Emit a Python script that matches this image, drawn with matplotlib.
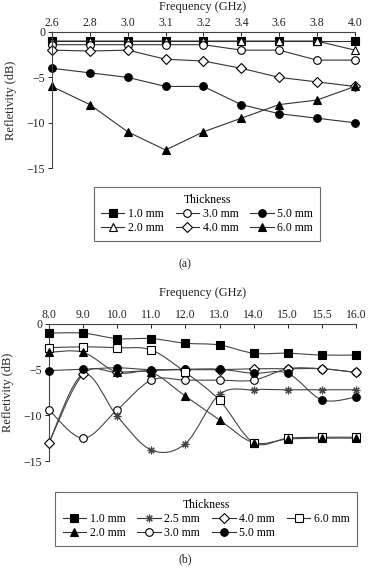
import numpy as np
import matplotlib
matplotlib.use("Agg")
import matplotlib.pyplot as plt
from matplotlib.path import Path
from matplotlib.patches import PathPatch
from matplotlib.lines import Line2D

plt.rcParams['font.family'] = ['Liberation Serif', 'DejaVu Serif']
plt.rcParams['axes.unicode_minus'] = True

# ---- data, panel (a) ----
freq_a = ['2.6', '2.8', '3.0', '3.1', '3.2', '3.4', '3.6', '3.8', '4.0']
a_1mm = [-1.0, -1.0, -1.0, -1.0, -1.0, -1.0, -1.0, -1.0, -1.0]
a_2mm = [-1.0, -1.0, -1.0, -1.0, -1.0, -1.0, -1.0, -1.0, -2.0]
a_3mm = [-1.4, -1.4, -1.4, -1.4, -1.4, -2.0, -2.0, -3.1, -3.1]
a_4mm = [-2.0, -2.1, -2.0, -3.0, -3.2, -4.0, -5.0, -5.5, -6.0]
a_5mm = [-4.0, -4.5, -5.0, -6.0, -6.0, -8.0, -9.0, -9.5, -10.0]
a_6mm = [-6.0, -8.0, -11.0, -13.0, -11.0, -9.5, -8.0, -7.5, -6.0]

# ---- data, panel (b) ----
freq_b = ['8.0', '9.0', '10.0', '11.0', '12.0', '13.0', '14.0', '15.0', '15.5', '16.0']
b_1mm = [-1.0, -1.0, -1.6, -1.6, -2.1, -2.3, -3.2, -3.2, -3.4, -3.4]
b_2mm = [-3.1, -3.1, -5.3, -5.3, -7.9, -10.5, -13.0, -12.6, -12.5, -12.5]
b_25mm = [-13.0, -5.5, -10.1, -13.8, -13.1, -7.7, -7.2, -7.2, -7.2, -7.2]
b_3mm = [-9.4, -12.5, -9.4, -6.15, -6.15, -6.15, -6.15, -4.9, -4.9, -5.3]
b_4mm = [-13.0, -5.5, -5.3, -5.1, -5.0, -5.0, -4.9, -4.9, -4.9, -5.3]
b_5mm = [-5.1, -4.95, -4.8, -5.0, -4.95, -4.95, -5.4, -5.4, -8.3, -8.0]
b_6mm = [-2.6, -2.5, -2.6, -2.85, -5.3, -8.35, -13.0, -12.5, -12.4, -12.4]

# marker styles (marker, face colour) for each panel
styles_a = {
    '1.0 mm': ('s', 'black'),
    '2.0 mm': ('^', 'white'),
    '3.0 mm': ('o', 'white'),
    '4.0 mm': ('D', 'white'),
    '5.0 mm': ('o', 'black'),
    '6.0 mm': ('^', 'black'),
}
styles_b = {
    '1.0 mm': ('s', 'black'),
    '2.0 mm': ('^', 'black'),
    '2.5 mm': ((8, 2, 0), 'none'),
    '3.0 mm': ('o', 'white'),
    '4.0 mm': ('D', 'white'),
    '5.0 mm': ('o', 'black'),
    '6.0 mm': ('s', 'white'),
}
line_c = '#333333'


def smooth_path(x, y):
    # Catmull-Rom style bezier through the points (like a smoothed Excel line)
    pts = np.column_stack([x, y]).astype(float)
    n = len(pts)
    verts = [pts[0]]
    codes = [Path.MOVETO]
    for i in range(n - 1):
        p0 = pts[i - 1] if i > 0 else pts[i]
        p1 = pts[i]
        p2 = pts[i + 1]
        p3 = pts[i + 2] if i + 2 < n else pts[i + 1]
        verts += [p1 + (p2 - p0) / 6, p2 - (p3 - p1) / 6, p2]
        codes += [Path.CURVE4] * 3
    return Path(verts, codes)


def setup_axes(ax, labels):
    ax.set_xlim(0, len(labels) - 1)
    ax.set_ylim(-15, 0)
    ax.xaxis.tick_top()
    ax.set_xticks(range(len(labels)))
    ax.set_xticklabels(labels)
    ax.set_yticks([0, -5, -10, -15])
    ax.spines['right'].set_visible(False)
    ax.spines['bottom'].set_visible(False)
    for s in ['top', 'left']:
        ax.spines[s].set_linewidth(0.8)
        ax.spines[s].set_color('#444444')
    ax.tick_params(axis='x', direction='in', length=3, pad=2, labelsize=8.5,
                   width=0.7, colors='#222222')
    ax.tick_params(axis='y', direction='out', length=3, pad=2, labelsize=8.5,
                   width=0.7, colors='#222222')
    ax.set_ylabel('Refletivity (dB)', fontsize=9, labelpad=7, color='#222222')
    ax.patch.set_alpha(0)


def make_legend(handles, center, ncol):
    leg = fig.legend(handles=handles, loc='center', bbox_to_anchor=center,
                     ncol=ncol, title='Thickness', fontsize=8.5,
                     title_fontsize=8.5, frameon=True, fancybox=False,
                     edgecolor='#444444', handlelength=2.0, handletextpad=0.3,
                     columnspacing=1.0, labelspacing=0.15, borderpad=0.6)
    leg.get_frame().set_linewidth(0.8)
    return leg


fig = plt.figure(figsize=(3.7, 5.7), dpi=100)

# ---------- panel (a) ----------
ax1 = fig.add_axes([0.1405, 0.705, 0.8185, 0.2389])
setup_axes(ax1, freq_a)
xa = np.arange(len(freq_a))
series_a = [('1.0 mm', a_1mm), ('2.0 mm', a_2mm), ('3.0 mm', a_3mm),
            ('4.0 mm', a_4mm), ('5.0 mm', a_5mm), ('6.0 mm', a_6mm)]
handles_a = []
for name, vals in series_a:
    m, fc = styles_a[name]
    ln, = ax1.plot(xa, vals, color=line_c, lw=0.8, marker=m, markersize=5.5,
                   markerfacecolor=fc, markeredgecolor='black',
                   markeredgewidth=0.8, label=name, clip_on=False)
    handles_a.append(ln)
fig.text(0.548, 0.9877, 'Frequency (GHz)', ha='center', va='center',
         fontsize=9, color='#222222')
make_legend(handles_a, (0.5595, 0.6246), 3)
fig.text(0.5, 0.537, '(a)', ha='center', va='center', fontsize=8.5,
         color='#222222')

# ---------- panel (b) ----------
ax2 = fig.add_axes([0.1324, 0.1912, 0.8296, 0.2404])
setup_axes(ax2, freq_b)
xb = np.arange(len(freq_b))
series_b = [('1.0 mm', b_1mm, 6), ('2.0 mm', b_2mm, 8), ('2.5 mm', b_25mm, 4),
            ('3.0 mm', b_3mm, 3), ('4.0 mm', b_4mm, 5), ('5.0 mm', b_5mm, 6),
            ('6.0 mm', b_6mm, 7)]
handles_b = []
for name, vals, z in series_b:
    m, fc = styles_b[name]
    ec = '#444444' if name == '2.5 mm' else 'black'
    ax2.add_patch(PathPatch(smooth_path(xb, vals), facecolor='none',
                            edgecolor='#444444', lw=0.8, zorder=2))
    ax2.plot(xb, vals, ls='none', marker=m, markersize=5.5,
             markerfacecolor=fc, markeredgecolor=ec, markeredgewidth=0.8,
             zorder=z, clip_on=False)
    handles_b.append(Line2D([], [], color=line_c, lw=0.8, marker=m,
                            markersize=5.5, markerfacecolor=fc,
                            markeredgecolor=ec, markeredgewidth=0.8,
                            label=name))
fig.text(0.548, 0.486, 'Frequency (GHz)', ha='center', va='center',
         fontsize=9, color='#222222')
make_legend(handles_b, (0.557, 0.0895), 4)
fig.text(0.5, 0.008, '(b)', ha='center', va='bottom', fontsize=8.5,
         color='#222222')

fig.savefig('out.png', dpi=100)
